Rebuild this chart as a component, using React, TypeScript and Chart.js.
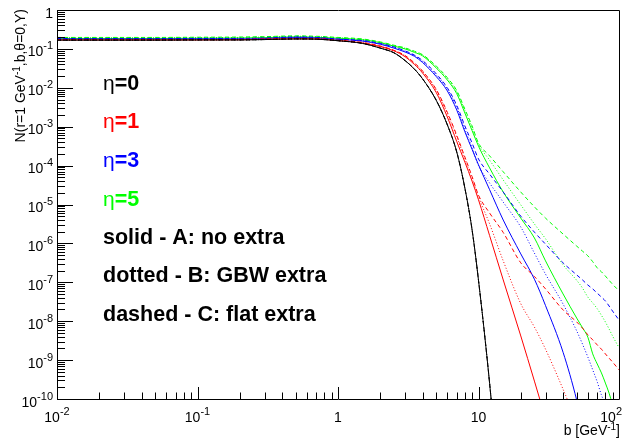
import React, { useEffect, useRef } from "react";
import { Chart, registerables } from "chart.js";

Chart.register(...registerables);

const bValues = [0.01, 0.02, 0.05, 0.1, 0.2, 0.3, 0.5, 0.7, 1, 1.5, 2, 2.5, 3, 3.5, 4, 5, 6, 7, 8, 9, 10, 12, 15, 20, 25, 30, 40, 50, 55, 60, 65, 70, 75, 80, 85, 90, 100];

// log10 of N (null = below the visible range)
const eta0Solid = [-0.775, -0.775, -0.775, -0.77, -0.77, -0.76, -0.745, -0.75, -0.79, -0.86, -0.98, -1.10, -1.30, -1.52, -1.77, -2.32, -2.95, -3.65, -4.58, -5.65, -6.95, -9.6, -13.5, null, null, null, null, null, null, null, null, null, null, null, null, null, null];
const eta0Dotted = [-0.775, -0.775, -0.775, -0.77, -0.77, -0.76, -0.745, -0.75, -0.79, -0.86, -0.98, -1.10, -1.30, -1.52, -1.77, -2.32, -2.95, -3.65, -4.58, -5.65, -6.95, -9.6, -13.5, null, null, null, null, null, null, null, null, null, null, null, null, null, null];
const eta0Dashed = [-0.775, -0.775, -0.775, -0.77, -0.77, -0.76, -0.745, -0.75, -0.79, -0.86, -0.98, -1.10, -1.30, -1.52, -1.77, -2.32, -2.95, -3.65, -4.58, -5.65, -6.95, -9.6, -13.5, null, null, null, null, null, null, null, null, null, null, null, null, null, null];

const eta1Solid = [-0.77, -0.77, -0.77, -0.77, -0.765, -0.755, -0.74, -0.745, -0.785, -0.85, -0.94, -1.05, -1.20, -1.40, -1.62, -2.12, -2.75, -3.38, -3.91, -4.40, -4.88, -5.80, -6.94, -8.38, -9.54, -10.5, null, null, null, null, null, null, null, null, null, null, null];
const eta1Dotted = [-0.765, -0.765, -0.765, -0.765, -0.76, -0.75, -0.735, -0.74, -0.78, -0.84, -0.93, -1.04, -1.18, -1.37, -1.58, -2.06, -2.66, -3.26, -3.82, -4.32, -4.80, -5.50, -6.45, -7.55, -8.15, -8.72, -9.75, -10.6, null, null, null, null, null, null, null, null, null];
const eta1Dashed = [-0.76, -0.76, -0.76, -0.76, -0.755, -0.745, -0.73, -0.735, -0.775, -0.835, -0.925, -1.035, -1.17, -1.36, -1.57, -2.04, -2.63, -3.22, -3.78, -4.28, -4.76, -5.22, -5.72, -6.50, -6.85, -7.17, -7.71, -8.02, -8.18, -8.35, -8.48, -8.61, -8.72, -8.84, -8.95, -9.05, -9.25];

const eta3Solid = [-0.75, -0.75, -0.75, -0.745, -0.745, -0.735, -0.71, -0.72, -0.755, -0.80, -0.88, -0.98, -1.08, -1.19, -1.35, -1.71, -2.08, -2.57, -3.13, -3.58, -3.98, -4.62, -5.40, -6.27, -6.92, -7.60, -8.80, -10.03, -10.7, null, null, null, null, null, null, null, null];
const eta3Dotted = [-0.74, -0.74, -0.74, -0.735, -0.735, -0.725, -0.70, -0.71, -0.75, -0.79, -0.87, -0.96, -1.06, -1.17, -1.32, -1.67, -2.03, -2.50, -3.06, -3.55, -4.00, -4.45, -4.94, -5.58, -6.25, -6.79, -7.56, -8.25, -8.59, -8.92, -9.25, -9.56, -9.90, -10.15, -10.5, null, null];
const eta3Dashed = [-0.735, -0.735, -0.735, -0.73, -0.73, -0.72, -0.695, -0.705, -0.745, -0.785, -0.86, -0.95, -1.05, -1.16, -1.30, -1.64, -2.0, -2.45, -2.98, -3.42, -3.83, -4.22, -4.68, -5.30, -5.71, -6.02, -6.50, -6.81, -6.94, -7.07, -7.17, -7.28, -7.38, -7.48, -7.61, -7.74, -7.97];

const eta5Solid = [-0.73, -0.73, -0.73, -0.725, -0.72, -0.71, -0.69, -0.70, -0.725, -0.765, -0.84, -0.93, -1.00, -1.09, -1.18, -1.49, -1.80, -2.15, -2.65, -3.10, -3.50, -4.06, -4.68, -5.35, -5.86, -6.45, -7.30, -7.92, -8.17, -8.41, -8.84, -9.10, -9.33, -9.59, -9.85, -10.15, -10.8];
const eta5Dotted = [-0.715, -0.715, -0.715, -0.71, -0.705, -0.695, -0.675, -0.685, -0.715, -0.755, -0.83, -0.915, -0.985, -1.07, -1.16, -1.46, -1.76, -2.10, -2.58, -3.02, -3.45, -3.86, -4.37, -5.01, -5.50, -5.88, -6.55, -6.95, -7.15, -7.38, -7.53, -7.68, -7.85, -8.02, -8.20, -8.38, -8.68];
const eta5Dashed = [-0.705, -0.705, -0.705, -0.70, -0.695, -0.685, -0.665, -0.675, -0.705, -0.745, -0.82, -0.905, -0.975, -1.06, -1.15, -1.44, -1.74, -2.07, -2.55, -2.98, -3.42, -3.75, -4.16, -4.68, -5.06, -5.35, -5.76, -6.07, -6.20, -6.32, -6.47, -6.63, -6.73, -6.84, -6.95, -7.05, -7.22];

const etaLabels = ["0", "1", "3", "5"];
const etaColors = ["#000000", "#ff0000", "#0000ff", "#00ff00"];
const styleLabels = ["solid - A: no extra", "dotted - B: GBW extra", "dashed - C: flat extra"];

const xTickExponents = [-2, -1, 0, 1, 2];
const yTickExponents = [-10, -9, -8, -7, -6, -5, -4, -3, -2, -1, 0];
const xTitle = ["b [GeV", "-1", "]"];
const yTitle = ["N(r=1 GeV", "-1", ",b,\u03b8=0,Y)"];

const FONT = '"Liberation Sans", Arial, Helvetica, sans-serif';

const seriesTable = [
  { data: eta0Solid, color: etaColors[0], dash: [] as number[] },
  { data: eta0Dotted, color: etaColors[0], dash: [1, 2] },
  { data: eta0Dashed, color: etaColors[0], dash: [4, 3] },
  { data: eta1Solid, color: etaColors[1], dash: [] as number[] },
  { data: eta1Dotted, color: etaColors[1], dash: [1, 2] },
  { data: eta1Dashed, color: etaColors[1], dash: [4, 3] },
  { data: eta3Solid, color: etaColors[2], dash: [] as number[] },
  { data: eta3Dotted, color: etaColors[2], dash: [1, 2] },
  { data: eta3Dashed, color: etaColors[2], dash: [4, 3] },
  { data: eta5Solid, color: etaColors[3], dash: [] as number[] },
  { data: eta5Dotted, color: etaColors[3], dash: [1, 2] },
  { data: eta5Dashed, color: etaColors[3], dash: [4, 3] },
];

type Seg = { t: string; font: string; dy?: number; color?: string };

function drawSegs(ctx: CanvasRenderingContext2D, segs: Seg[], x: number, y: number, align: "left" | "right" | "center") {
  const widths = segs.map((s) => {
    ctx.font = s.font;
    return ctx.measureText(s.t).width;
  });
  const total = widths.reduce((a, b) => a + b, 0);
  let cx = align === "left" ? x : align === "right" ? x - total : x - total / 2;
  ctx.textAlign = "left";
  ctx.textBaseline = "alphabetic";
  segs.forEach((s, i) => {
    ctx.font = s.font;
    if (s.color) ctx.fillStyle = s.color;
    ctx.fillText(s.t, cx, y + (s.dy || 0));
    cx += widths[i];
  });
}

function powLabel(e: number): Seg[] {
  if (e === 0) return [{ t: "1", font: `14px ${FONT}` }];
  if (e === 1) return [{ t: "10", font: `14px ${FONT}` }];
  return [
    { t: "10", font: `14px ${FONT}` },
    { t: String(e), font: `11px ${FONT}`, dy: -7 },
  ];
}

const rootAxesPlugin = {
  id: "rootAxes",
  afterDraw(chart: any) {
    const ctx: CanvasRenderingContext2D = chart.ctx;
    const xs = chart.scales.x;
    const ys = chart.scales.y;
    const { left, right, top, bottom } = chart.chartArea;
    ctx.save();
    ctx.strokeStyle = "#000";
    ctx.fillStyle = "#000";
    ctx.lineWidth = 1;
    ctx.setLineDash([]);

    // frame
    ctx.beginPath();
    ctx.rect(left + 0.5, top + 0.5, right - left, bottom - top);
    ctx.stroke();

    // y ticks
    ctx.beginPath();
    yTickExponents.forEach((e, i) => {
      const py = Math.round(ys.getPixelForValue(Math.pow(10, e))) + 0.5;
      ctx.moveTo(left, py);
      ctx.lineTo(left + 16, py);
      if (i < yTickExponents.length - 1) {
        for (let k = 2; k <= 9; k++) {
          const p = Math.round(ys.getPixelForValue(k * Math.pow(10, e))) + 0.5;
          ctx.moveTo(left, p);
          ctx.lineTo(left + 8, p);
        }
      }
    });
    // x ticks
    xTickExponents.forEach((e, i) => {
      const px = Math.round(xs.getPixelForValue(Math.pow(10, e))) + 0.5;
      ctx.moveTo(px, bottom);
      ctx.lineTo(px, bottom - 12);
      if (i < xTickExponents.length - 1) {
        for (let k = 2; k <= 9; k++) {
          const p = Math.round(xs.getPixelForValue(k * Math.pow(10, e))) + 0.5;
          ctx.moveTo(p, bottom);
          ctx.lineTo(p, bottom - 6.5);
        }
      }
    });
    ctx.stroke();

    // y tick labels
    yTickExponents.forEach((e) => {
      const py = ys.getPixelForValue(Math.pow(10, e));
      drawSegs(ctx, powLabel(e), 53, py + 7.5, "right");
    });
    // x tick labels
    xTickExponents.forEach((e, i) => {
      const px = xs.getPixelForValue(Math.pow(10, e));
      if (i === xTickExponents.length - 1) drawSegs(ctx, powLabel(e), 622, 421.5, "right");
      else drawSegs(ctx, powLabel(e), px, 421.5, "center");
    });

    // x title
    drawSegs(
      ctx,
      [
        { t: xTitle[0], font: `14px ${FONT}` },
        { t: xTitle[1], font: `10px ${FONT}`, dy: -5 },
        { t: xTitle[2], font: `14px ${FONT}` },
      ],
      right + 1,
      435,
      "right"
    );

    // y title (rotated)
    ctx.save();
    ctx.translate(24.5, 9);
    ctx.rotate(-Math.PI / 2);
    drawSegs(
      ctx,
      [
        { t: yTitle[0], font: `14px ${FONT}` },
        { t: yTitle[1], font: `10px ${FONT}`, dy: -5 },
        { t: yTitle[2], font: `14px ${FONT}` },
      ],
      0,
      0,
      "right"
    );
    ctx.restore();

    // annotations
    const etaBase = [89.5, 128.2, 167, 206];
    etaLabels.forEach((lab, i) => {
      drawSegs(
        ctx,
        [
          { t: "\u03b7", font: `21px ${FONT}`, color: etaColors[i] },
          { t: "=" + lab, font: `bold 21.5px ${FONT}`, color: etaColors[i] },
        ],
        103,
        etaBase[i],
        "left"
      );
    });
    const styleBase = [243.5, 282, 320.5];
    styleLabels.forEach((lab, i) => {
      drawSegs(ctx, [{ t: lab, font: `bold 21.5px ${FONT}`, color: "#000" }], 103, styleBase[i], "left");
    });

    ctx.restore();
  },
};

export default function App() {
  const canvasRef = useRef<HTMLCanvasElement | null>(null);

  useEffect(() => {
    if (!canvasRef.current) return;
    const datasets = seriesTable.map((s) => ({
      data: bValues
        .map((b, i) => ({ x: b, y: s.data[i] }))
        .filter((p) => p.y !== null && p.y !== undefined)
        .map((p) => ({ x: p.x, y: Math.pow(10, p.y as number) })),
      borderColor: s.color,
      backgroundColor: s.color,
      borderWidth: 1,
      borderDash: s.dash,
      pointRadius: 0,
      fill: false,
      cubicInterpolationMode: "monotone" as const,
    }));
    const chart = new Chart(canvasRef.current, {
      type: "line",
      data: { datasets },
      options: {
        animation: false,
        responsive: false,
        devicePixelRatio: 1,
        events: [],
        layout: { padding: { left: 57, right: 7, top: 10, bottom: 40 } },
        plugins: { legend: { display: false }, tooltip: { enabled: false } },
        scales: {
          x: { type: "logarithmic", min: 0.01, max: 100, display: false },
          y: { type: "logarithmic", min: 1e-10, max: 1, display: false },
        },
      },
      plugins: [rootAxesPlugin],
    });
    return () => chart.destroy();
  }, []);

  return (
    <div style={{ position: "fixed", left: 0, top: 0, width: 626, height: 439, background: "#fff" }}>
      <canvas ref={canvasRef} width={626} height={439} style={{ display: "block", width: 626, height: 439 }} />
    </div>
  );
}
